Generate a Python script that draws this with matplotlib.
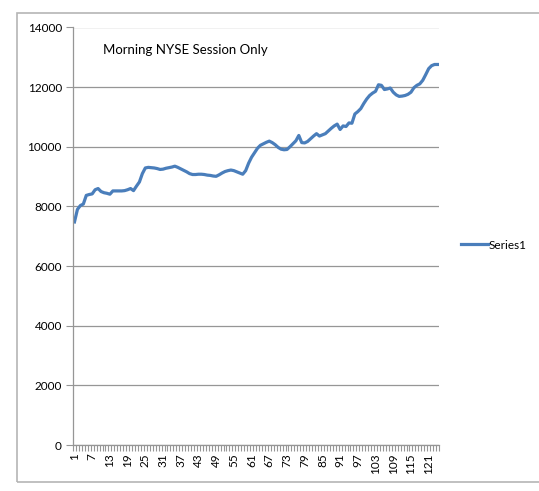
import numpy as np
import matplotlib
matplotlib.use("Agg")
import matplotlib.pyplot as plt
from matplotlib.patches import Rectangle

plt.rcParams['font.family'] = ['Lato', 'DejaVu Sans']

title = "Morning NYSE Session Only"
series_name = "Series1"

# values, one per session
values = [
    7480, 7900, 8030, 8080, 8370, 8400, 8420, 8560, 8600, 8500,
    8460, 8440, 8410, 8520, 8520, 8520, 8520, 8530, 8560, 8600,
    8530, 8680, 8820, 9100, 9290, 9310, 9300, 9290, 9270, 9240,
    9250, 9280, 9300, 9320, 9350, 9310, 9260, 9210, 9160, 9100,
    9070, 9070, 9080, 9080, 9070, 9050, 9040, 9020, 9010, 9060,
    9120, 9170, 9200, 9220, 9200, 9160, 9120, 9080, 9200, 9450,
    9650, 9800, 9950, 10050, 10100, 10150, 10190, 10140, 10070, 9980,
    9920, 9900, 9910, 10000, 10100, 10200, 10380, 10140, 10130, 10180,
    10270, 10360, 10440, 10360, 10400, 10440, 10530, 10620, 10700, 10760,
    10580, 10700, 10680, 10800, 10790, 11100, 11180, 11280, 11450, 11600,
    11720, 11800, 11860, 12080, 12060, 11920, 11940, 11970, 11830, 11740,
    11690, 11700, 11720, 11760, 11830, 11980, 12060, 12110, 12230, 12420,
    12620, 12720, 12760, 12760,
]
x = np.arange(1, len(values) + 1)
xlabels = list(range(1, len(values) + 1, 6))
yticks = list(range(0, 14001, 2000))

fig = plt.figure(figsize=(5.39, 4.91), dpi=100)
ax = fig.add_axes([73/539, 46/491, 366/539, 417.5/491])

line_color = '#4A7EBB'
grid_color = '#969696'

ax.plot(x, values, color=line_color, lw=2.3, label=series_name, solid_joinstyle='round')

ax.set_xlim(0.5, len(values) + 0.5)
ax.set_ylim(0, 14000)
ax.set_yticks(yticks)
ax.set_yticklabels([str(v) for v in yticks])
ax.set_xticks(xlabels)
ax.set_xticklabels([str(v) for v in xlabels], rotation=90)
ax.set_xticks(np.arange(0.5, len(values) + 1, 1), minor=True)

ax.tick_params(axis='x', which='major', length=0, pad=6, labelsize=8.5)
ax.tick_params(axis='x', which='minor', length=4, color=grid_color, width=0.8)
ax.tick_params(axis='y', length=5, color=grid_color, width=0.8, pad=3, labelsize=8.5)

ax.yaxis.grid(True, color=grid_color, lw=0.9)
ax.set_axisbelow(True)
for s in ['top', 'right']:
    ax.spines[s].set_visible(False)
for s in ['left', 'bottom']:
    ax.spines[s].set_color(grid_color)
    ax.spines[s].set_linewidth(0.9)

ax.text((103 - 73) / 366, (445 - 50) / 417.5, title, transform=ax.transAxes,
        ha='left', va='center', fontsize=9.5)

fig.legend(loc='center left', bbox_to_anchor=(450/539, 1 - 245/491), frameon=False,
           handlelength=2.3, handletextpad=0.05, fontsize=8.5)

fig.patches.append(Rectangle((17/539, 9/491), 0.99, 469/491, transform=fig.transFigure,
                             fill=False, edgecolor='#b5b5b5', lw=1.2))

fig.savefig("out.png", dpi=100)
